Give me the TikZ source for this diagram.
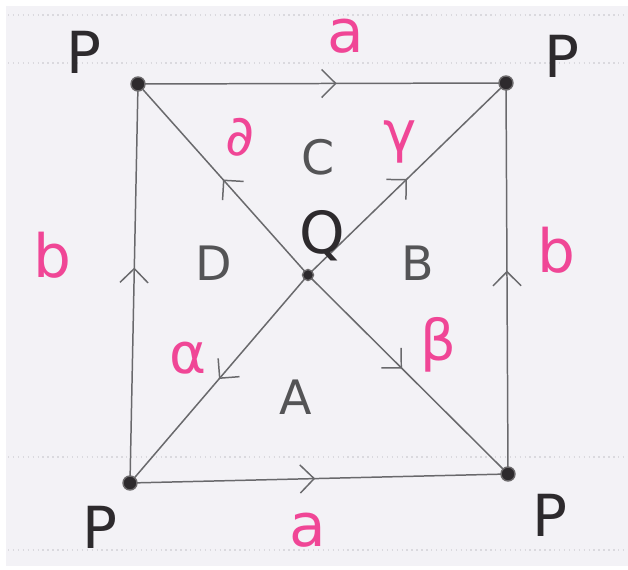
\documentclass[tikz,border=0pt]{standalone}
\usepackage{fontspec}
\setmainfont{DejaVu Sans}
\usetikzlibrary{arrows.meta,decorations.markings}
\definecolor{pencil}{RGB}{105,105,108}
\definecolor{ink}{RGB}{45,42,45}
\definecolor{pinkink}{RGB}{240,70,150}
\definecolor{paper}{RGB}{243,242,246}
\definecolor{showthru}{RGB}{218,217,222}

\begin{document}
\begin{tikzpicture}[x=0.02cm, y=-0.02cm,
  edge/.style={draw=pencil, line width=0.85pt, postaction={decorate},
    decoration={markings, mark=at position #1 with {\arrow{Straight Barb[length=8pt, width=16pt, line width=0.85pt]}}}},
  vertex/.style={fill=ink, draw=ink!70, line width=0.8pt},
  corner/.style={text=ink, font=\fontsize{33}{33}\selectfont},
  region/.style={text=pencil!80!black, font=\fontsize{27}{27}\selectfont},
  side/.style={text=pinkink, font=\fontsize{34}{34}\selectfont},
  greek/.style={text=pinkink, font=\fontsize{32}{32}\selectfont}]
\useasboundingbox (0,0) rectangle (628,570);
\fill[paper] (6,6) rectangle (628,566);
% faint dotted rules showing through the sheet
\foreach \y in {15,63,457,550}
  \draw[showthru, line width=0.8pt, dotted] (8,\y) -- (628,\y);

\coordinate (pTL) at (138,84);
\coordinate (pTR) at (506,83);
\coordinate (pBL) at (130,483);
\coordinate (pBR) at (508,474);
\coordinate (q) at (308,275);

% square edges
\draw[edge=0.54] (pTL) -- (pTR);
\draw[edge=0.49] (pBL) -- (pBR);
\draw[edge=0.54] (pBL) -- (pTL);
\draw[edge=0.52] (pBR) -- (pTR);
% diagonals out of Q
\draw[edge=0.5] (q) -- (pTL);
\draw[edge=0.5] (q) -- (pTR);
\draw[edge=0.5] (q) -- (pBL);
\draw[edge=0.47] (q) -- (pBR);

\foreach \v in {pTL,pTR,pBL,pBR}
  \draw[vertex] (\v) circle (7);
\draw[vertex] (q) circle (5.5);

\node[corner] (lTL) at (84,52) {P};
\node[corner] (lTR) at (562,56) {P};
\node[corner] (lBL) at (100,527) {P};
\node[corner] (lBR) at (550,515) {P};
\node[corner] (lQ) at (322,236) {Q};

\node[side] (aTop) at (346,36) {a};
\node[side] (aBot) at (308,530) {a};
\node[side] (bLeft) at (52,255) {b};
\node[side] (bRight) at (556,250) {b};

\node[greek] (dl) at (240,137) {∂};
\node[greek] (gm) at (400,142) {γ};
\node[greek] (al) at (188,358) {α};
\node[greek] (bt) at (438,345) {β};

\node[region] (rC) at (318,157) {C};
\node[region] (rD) at (214,263) {D};
\node[region] (rB) at (418,263) {B};
\node[region] (rA) at (296,397) {A};
\end{tikzpicture}
\end{document}
